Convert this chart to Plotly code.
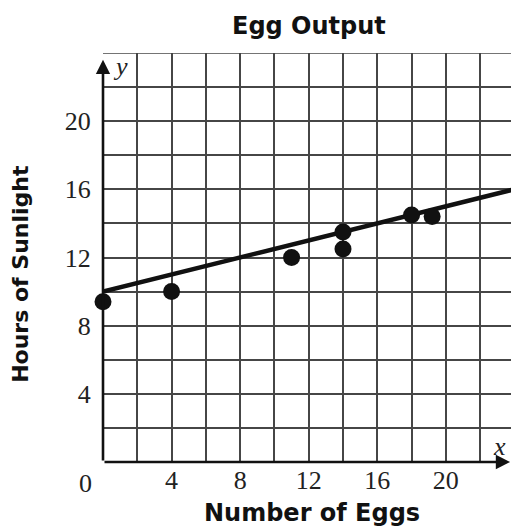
import plotly.graph_objects as go

# Data
eggs = [0, 4, 11, 14, 14, 18, 19.2]
sunlight = [9.4, 10, 12, 13.5, 12.5, 14.5, 14.4]
fit_x = [0, 24]
fit_y = [10, 16]
x_ticks = [4, 8, 12, 16, 20]
y_ticks = [4, 8, 12, 16, 20]

X_MAX = 23.8
Y_MAX = 24
GRID = "#464646"

fig = go.Figure()
fig.add_trace(go.Scatter(x=fit_x, y=fit_y, mode="lines",
                         line=dict(color="#111", width=4.5), cliponaxis=True,
                         hoverinfo="skip", showlegend=False))
fig.add_trace(go.Scatter(x=eggs, y=sunlight, mode="markers",
                         marker=dict(color="#111", size=17), cliponaxis=False,
                         showlegend=False))

serif = "Liberation Serif"
sans = "DejaVu Sans"

fig.update_layout(
    width=511, height=529,
    margin=dict(l=103, r=0, t=53, b=67),
    plot_bgcolor="white", paper_bgcolor="white",
    xaxis=dict(range=[0, X_MAX], showgrid=True,
               gridcolor=GRID, gridwidth=1.6, zeroline=False, showline=False,
               tickmode="array", tickvals=x_ticks, ticktext=[str(v) for v in x_ticks],
               ticks="", automargin=False,
               tickfont=dict(family=serif, size=26, color="#222")),
    yaxis=dict(range=[0, Y_MAX], showgrid=True,
               gridcolor=GRID, gridwidth=1.6, zeroline=False, showline=False,
               tickmode="array", tickvals=y_ticks, ticktext=[str(v) for v in y_ticks],
               ticks="outside", ticklen=6, tickcolor="rgba(0,0,0,0)", automargin=False,
               tickfont=dict(family=serif, size=26, color="#222")),
)

# grid lines at every 2 units (minor ones not labelled)
fig.update_xaxes(minor=dict(dtick=2, tick0=0, showgrid=True, gridcolor=GRID, gridwidth=1.6))
fig.update_yaxes(minor=dict(dtick=2, tick0=0, showgrid=True, gridcolor=GRID, gridwidth=1.6))

# top border line (y = 24)
fig.add_shape(type="line", xref="x", yref="y", x0=0, x1=X_MAX, y0=Y_MAX, y1=Y_MAX,
              line=dict(color=GRID, width=1.6))

# axes with arrows
fig.add_annotation(x=X_MAX - 0.05, y=0, ax=0, ay=0, xref="x", yref="y", axref="x", ayref="y",
                   text="", showarrow=True, arrowhead=2, arrowsize=1.1, arrowwidth=2.6,
                   arrowcolor="#111")
fig.add_annotation(x=0, y=23.6, ax=0, ay=0, xref="x", yref="y", axref="x", ayref="y",
                   text="", showarrow=True, arrowhead=2, arrowsize=1.1, arrowwidth=2.6,
                   arrowcolor="#111")

# axis letters
fig.add_annotation(x=23.15, y=0.9, xref="x", yref="y", text="<i>x</i>", showarrow=False,
                   font=dict(family=serif, size=26, color="#222"))
fig.add_annotation(x=1.0, y=23.2, xref="x", yref="y", text="<i>y</i>", showarrow=False,
                   font=dict(family=serif, size=26, color="#222"))

# origin label
fig.add_annotation(x=0, y=0, xref="x", yref="y", text="0", showarrow=False,
                   xshift=-18, yshift=-21,
                   font=dict(family=serif, size=26, color="#222"))

# titles
fig.add_annotation(x=0.505, y=1.066, xref="paper", yref="paper", text="<b>Egg Output</b>",
                   showarrow=False, yanchor="middle",
                   font=dict(family=sans, size=24, color="#111"))
fig.add_annotation(x=0.512, y=-0.125, xref="paper", yref="paper", text="<b>Number of Eggs</b>",
                   showarrow=False, yanchor="middle",
                   font=dict(family=sans, size=24, color="#111"))
fig.add_annotation(x=-0.201, y=0.46, xref="paper", yref="paper", text="<b>Hours of Sunlight</b>",
                   showarrow=False, textangle=-90, xanchor="center", yanchor="middle",
                   font=dict(family=sans, size=22, color="#111"))

fig.write_html("out.html", config={"displayModeBar": False},
               post_script="document.body.style.margin='0';document.body.style.overflow='hidden';")
